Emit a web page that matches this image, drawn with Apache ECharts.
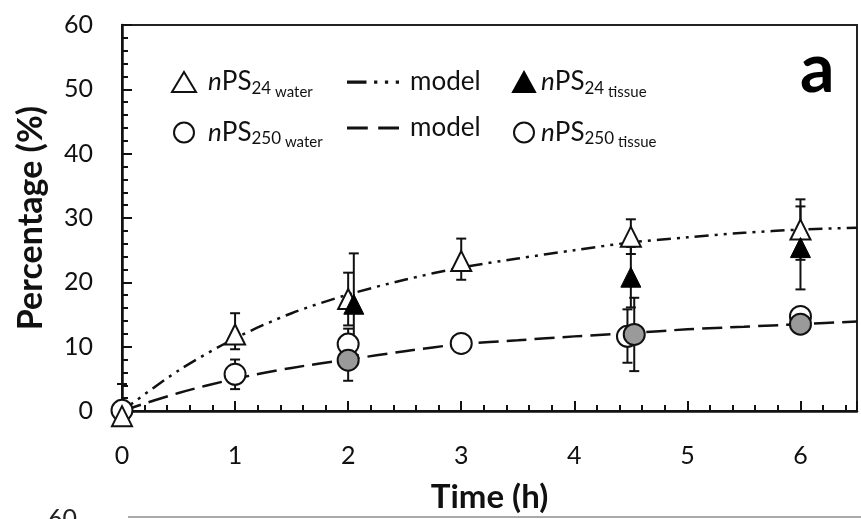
<!DOCTYPE html>
<html>
<head>
<meta charset="utf-8">
<script src="https://cdn.jsdelivr.net/npm/echarts@6/dist/echarts.min.js"></script>
<style>
html,body{margin:0;padding:0;background:#fff;}
#c{width:861px;height:519px;}
</style>
</head>
<body>
<div id="c"></div>
<script>
// ---- data ----
const xTicks = [0, 1, 2, 3, 4, 5, 6];
const yTicks = [0, 10, 20, 30, 40, 50, 60];

// nPS24 water (open triangles)
const tW24 = [0, 1, 2, 3, 4.5, 6];
const vW24 = [-0.8, 11.9, 17.4, 23.3, 27.1, 28.2];
const loW24 = [-0.8, 9.6, 13.3, 20.4, 24.4, 23.5];
const hiW24 = [4.2, 15.2, 21.5, 26.8, 29.8, 32.9];

// nPS24 tissue (filled triangles)
const tT24 = [2.05, 4.5, 6];
const vT24 = [16.6, 20.8, 25.4];
const loT24 = [8.7, 16.1, 18.9];
const hiT24 = [24.5, 25.5, 31.8];

// nPS250 water (open circles)
const tW250 = [0, 1, 2, 3, 4.47, 6];
const vW250 = [0.1, 5.7, 10.4, 10.5, 11.6, 14.7];
const loW250 = [0.1, 3.4, 8.0, 9.5, 7.5, 13.5];
const hiW250 = [0.1, 8.0, 12.8, 11.5, 15.8, 15.9];

// nPS250 tissue (grey circles)
const tT250 = [2, 4.53, 6];
const vT250 = [7.9, 11.9, 13.5];
const loT250 = [4.7, 6.2, 12.5];
const hiT250 = [11.1, 17.6, 14.5];

// model curves
const tModel = [0, 0.5, 1, 1.5, 2, 2.5, 3, 3.5, 4, 4.5, 5, 5.5, 6, 6.5];
const vModel24 = [0, 6.3, 11.3, 15.2, 18.1, 20.4, 22.3, 23.7, 25.0, 26.2, 27.0, 27.7, 28.2, 28.5];
const vModel250 = [0, 2.8, 5.0, 6.7, 8.0, 9.3, 10.4, 11.0, 11.6, 12.1, 12.7, 13.1, 13.5, 13.9];

// ---- build ----
const FONT = 'Lato';
function pts(t, v) { return t.map((x, i) => [x, v[i]]); }
function errs(t, lo, hi) { return t.map((x, i) => [x, lo[i], hi[i]]); }

function errSeries(t, lo, hi) {
  return {
    type: 'custom',
    silent: true,
    z: 2,
    clip: false,
    data: errs(t, lo, hi),
    renderItem: function (params, api) {
      const x = api.value(0);
      const a = api.coord([x, api.value(1)]);
      const b = api.coord([x, api.value(2)]);
      const w = 5;
      const st = { stroke: '#111', lineWidth: 2 };
      return {
        type: 'group',
        children: [
          { type: 'line', shape: { x1: a[0], y1: a[1], x2: b[0], y2: b[1] }, style: st },
          { type: 'line', shape: { x1: a[0] - w, y1: a[1], x2: a[0] + w, y2: a[1] }, style: st },
          { type: 'line', shape: { x1: b[0] - w, y1: b[1], x2: b[0] + w, y2: b[1] }, style: st }
        ]
      };
    }
  };
}

const rich = {
  p: { fontFamily: FONT, fontSize: 26, color: '#111', padding: [0, 0, 0, 7] },
  q: { fontFamily: FONT, fontSize: 26, color: '#111', padding: [0, 0, 0, 1] },
  n: { fontFamily: FONT, fontSize: 26, color: '#111', fontStyle: 'italic' },
  m: { fontFamily: FONT, fontSize: 26, color: '#111' },
  s: { fontFamily: FONT, fontSize: 17, color: '#111', padding: [13, 0, 0, 0] },
  w: { fontFamily: FONT, fontSize: 15, color: '#111', padding: [20, 0, 0, 0] },
  mod: { fontFamily: FONT, fontSize: 26, color: '#111', padding: [0, 0, 0, 6] }
};
const labelMap = {
  'nPS24 water': '{p|}{n|n}{m|PS}{s|24}{w| water}',
  'nPS250 water': '{p|}{n|n}{m|PS}{s|250}{w| water}',
  'model24': '{mod|model}',
  'model250': '{mod|model}',
  'nPS24 tissue': '{q|}{n|n}{m|PS}{s|24}{w| tissue}',
  'nPS250 tissue': '{q|}{n|n}{m|PS}{s|250}{w| tissue}'
};
function fmt(name) { return labelMap[name]; }

const iconDashDotDot = 'path://M0,0H18V3H0Z M25,0H28V3H25Z M35,0H38V3H35Z M45,0H48V3H45Z';
const iconDash = 'path://M0,0H20V3H0Z M30,0H50V3H30Z';

const chart = echarts.init(document.getElementById('c'), null, { renderer: 'canvas' });
chart.setOption({
  animation: false,
  backgroundColor: '#fff',
  grid: { left: 122, right: 4, top: 25, bottom: 107, show: true, borderColor: '#222', borderWidth: 2, backgroundColor: 'transparent' },
  legend: [
    {
      data: ['nPS24 water', 'nPS250 water'], orient: 'vertical', left: 166, top: 64,
      itemWidth: 24, itemHeight: 20, itemGap: 20, formatter: fmt, textStyle: { rich: rich }, selectedMode: false
    },
    {
      data: [{ name: 'model24', icon: iconDashDotDot, itemStyle: { color: '#111' } }, { name: 'model250', icon: iconDash, itemStyle: { color: '#111' } }],
      orient: 'vertical', left: 342, top: 64,
      itemWidth: 52, itemHeight: 20, itemGap: 20, formatter: fmt, textStyle: { rich: rich }, selectedMode: false
    },
    {
      data: ['nPS24 tissue', { name: 'nPS250 tissue', itemStyle: { color: '#fff' } }], orient: 'vertical', left: 507, top: 64,
      itemWidth: 22, itemHeight: 20, itemGap: 20, formatter: fmt, textStyle: { rich: rich }, selectedMode: false
    }
  ],
  xAxis: {
    type: 'value', min: 0, max: 6.5, interval: 1,
    name: 'Time (h)', nameLocation: 'middle', nameGap: 70,
    nameTextStyle: { fontFamily: FONT, fontSize: 33, fontWeight: 'bold', color: '#111' },
    axisLine: { show: true, lineStyle: { color: '#111', width: 2.5 } },
    axisTick: { show: true, inside: true, length: 10, lineStyle: { color: '#111', width: 2 } },
    minorTick: { show: true, splitNumber: 5, length: 6, lineStyle: { color: '#111', width: 2 } },
    splitLine: { show: false },
    axisLabel: {
      margin: 32, fontFamily: FONT, fontSize: 25, color: '#111',
      formatter: function (v) { return xTicks.indexOf(v) >= 0 ? String(v) : ''; }
    }
  },
  yAxis: {
    type: 'value', min: 0, max: 60, interval: 10,
    name: 'Percentage (%)', nameLocation: 'middle', nameGap: 74,
    nameTextStyle: { fontFamily: FONT, fontSize: 34, fontWeight: 'bold', color: '#111' },
    axisLine: { show: true, lineStyle: { color: '#111', width: 2.5 } },
    axisTick: { show: true, inside: true, length: 10, lineStyle: { color: '#111', width: 2 } },
    minorTick: { show: true, splitNumber: 5, length: 6, lineStyle: { color: '#111', width: 2 } },
    splitLine: { show: false },
    axisLabel: {
      margin: 29, fontFamily: FONT, fontSize: 25, color: '#111',
      formatter: function (v) { return yTicks.indexOf(v) >= 0 ? String(v) : ''; }
    }
  },
  graphic: [
    { type: 'text', left: 800, top: 36, style: { text: 'a', fontFamily: FONT, fontSize: 68, fontWeight: 'bold', fill: '#000' }, z: 10 },
    { type: 'line', shape: { x1: 128, y1: 517, x2: 861, y2: 517 }, style: { stroke: '#aaa', lineWidth: 2 }, z: 10 },
    { type: 'text', left: 48, top: 506, style: { text: '60', fontFamily: FONT, fontSize: 25, fill: '#222' }, z: 10 }
  ],
  series: [
    {
      name: 'model24', type: 'line', data: pts(tModel, vModel24), smooth: 0.3, symbol: 'none', z: 1,
      lineStyle: { color: '#111', width: 2.5, type: [14, 6, 3, 6, 3, 6] }, itemStyle: { color: '#111' }
    },
    {
      name: 'model250', type: 'line', data: pts(tModel, vModel250), smooth: 0.3, symbol: 'none', z: 1,
      lineStyle: { color: '#111', width: 2.5, type: [20, 8] }, itemStyle: { color: '#111' }
    },
    errSeries(tW250, loW250, hiW250),
    errSeries(tT250, loT250, hiT250),
    errSeries(tW24, loW24, hiW24),
    errSeries(tT24, loT24, hiT24),
    {
      name: 'nPS250 water', type: 'scatter', data: pts(tW250, vW250), symbol: 'circle', symbolSize: 21, clip: false, z: 3,
      itemStyle: { color: '#fff', borderColor: '#111', borderWidth: 2, opacity: 1 }
    },
    {
      name: 'nPS250 tissue', type: 'scatter', data: pts(tT250, vT250), symbol: 'circle', symbolSize: 21, clip: false, z: 4,
      itemStyle: { color: '#9a9a9a', borderColor: '#111', borderWidth: 2, opacity: 1 }
    },
    {
      name: 'nPS24 water', type: 'scatter', data: pts(tW24, vW24), symbol: 'triangle', symbolSize: [20, 20], clip: false, z: 5,
      itemStyle: { color: '#fff', borderColor: '#111', borderWidth: 2, opacity: 1 }
    },
    {
      name: 'nPS24 tissue', type: 'scatter', data: pts(tT24, vT24), symbol: 'triangle', symbolSize: [20, 20], clip: false, z: 6,
      itemStyle: { color: '#000', borderColor: '#000', borderWidth: 1, opacity: 1 }
    }
  ]
});
</script>
</body>
</html>
